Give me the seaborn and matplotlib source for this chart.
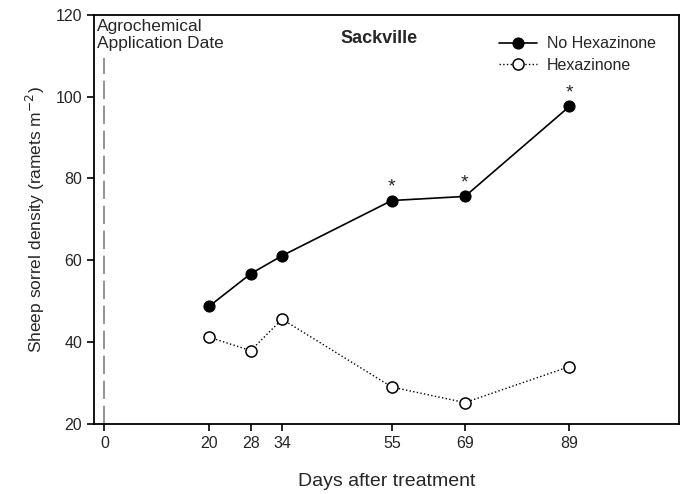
import pandas as pd
import matplotlib.pyplot as plt
import seaborn as sns

days = [20, 28, 34, 55, 69, 89]
no_hex = [48.7, 56.7, 61.1, 74.6, 75.6, 97.6]
hexazinone = [41.2, 37.9, 45.6, 29.0, 25.2, 34.0]
star_days = [55, 69, 89]
tick_days = [0, 20, 28, 34, 55, 69, 89]


def make_plot():
    sns.set_theme(style="ticks")
    plt.rcParams['font.family'] = ['Liberation Sans', 'DejaVu Sans']

    df = pd.DataFrame({
        'day': days * 2,
        'density': no_hex + hexazinone,
        'treatment': ['No Hexazinone'] * len(days) + ['Hexazinone'] * len(days),
    })

    fig = plt.figure(figsize=(6.86, 4.94), dpi=100)
    ax = fig.add_axes([0.137, 0.142, 0.853, 0.828])

    sns.lineplot(data=df[df.treatment == 'No Hexazinone'], x='day', y='density',
                 color='black', linestyle='-', linewidth=1.2, marker='o',
                 markersize=8, markerfacecolor='black', markeredgecolor='black',
                 label='No Hexazinone', ax=ax)
    sns.lineplot(data=df[df.treatment == 'Hexazinone'], x='day', y='density',
                 color='black', linestyle=':', linewidth=1.0, marker='o',
                 markersize=8, markerfacecolor='white', markeredgecolor='black',
                 markeredgewidth=1.1, label='Hexazinone', ax=ax)

    # significance marks
    for d in star_days:
        v = no_hex[days.index(d)]
        ax.text(d, v + 3.4, '*', ha='center', va='center', fontsize=14)

    ax.plot([0, 0], [20, 109.5], color='gray', linestyle=(0, (11, 4)), linewidth=1.2)
    ax.text(-1.5, 118.9, 'Agrochemical\nApplication Date', ha='left', va='top',
            fontsize=12.5, linespacing=1.12)
    ax.text(52.5, 114.1, 'Sackville', ha='center', va='center',
            fontsize=13, fontweight='bold')

    ax.set_xlim(-2, 110)
    ax.set_ylim(20, 120)
    ax.set_xticks(tick_days)
    ax.set_yticks([20, 40, 60, 80, 100, 120])
    ax.tick_params(labelsize=11.5, length=5, width=1.2, color='black', direction='out')
    ax.set_xlabel('Days after treatment', fontsize=14, labelpad=16)
    ax.set_ylabel('Sheep sorrel density (ramets m$^{-2}$)', fontsize=12.5, labelpad=6)
    for s in ax.spines.values():
        s.set_linewidth(1.3)
        s.set_color('black')

    ax.legend(loc='upper right', bbox_to_anchor=(0.979, 0.975), frameon=False,
              fontsize=11.5, handlelength=2.4, handletextpad=0.6,
              borderaxespad=0.3, labelspacing=0.4)

    fig.savefig('out.png', dpi=100)


if __name__ == "__main__":
    make_plot()
